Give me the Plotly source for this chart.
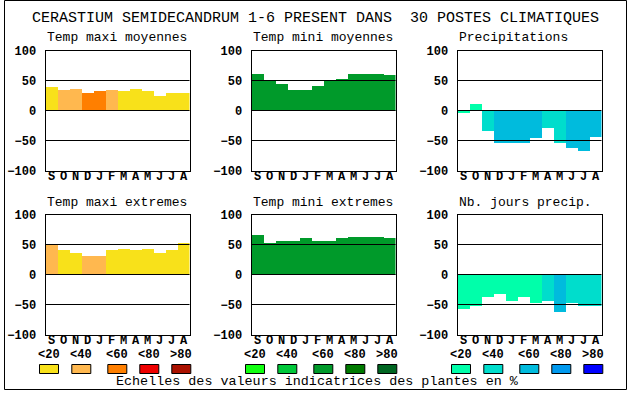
import plotly.graph_objects as go

MONTHS = ["S", "O", "N", "D", "J", "F", "M", "A", "M", "J", "J", "A"]

TITLE = "CERASTIUM SEMIDECANDRUM 1-6 PRESENT DANS  30 POSTES CLIMATIQUES"
FOOTER = "Echelles des valeurs indicatrices des plantes en %"
CLASS_LABELS = ["<20", "<40", "<60", "<80", ">80"]

PANEL_TITLES = ["Temp maxi moyennes", "Temp mini moyennes", "Precipitations",
                "Temp maxi extremes", "Temp mini extremes", "Nb. jours precip."]

tmax_moy = [40, 35, 37, 30, 33, 35, 33, 37, 33, 25, 30, 30]
tmax_moy_cls = [0, 1, 1, 2, 2, 1, 0, 0, 0, 0, 0, 0]

tmin_moy = [62, 52, 45, 35, 35, 42, 52, 53, 62, 62, 62, 60]
tmin_moy_cls = [2] * 12

precip = [-4, 12, -34, -54, -54, -53, -45, -28, -54, -61, -66, -44]
precip_cls = [0, 0, 1, 2, 2, 2, 2, 1, 1, 2, 2, 2]

tmax_ext = [52, 42, 36, 32, 32, 41, 44, 42, 44, 37, 41, 54]
tmax_ext_cls = [1, 0, 0, 1, 1, 0, 0, 0, 0, 0, 0, 0]

tmin_ext = [66, 54, 57, 57, 62, 56, 56, 61, 64, 64, 64, 62]
tmin_ext_cls = [2] * 12

nbjours = [-56, -52, -37, -31, -44, -37, -46, -44, -61, -46, -52, -52]
nbjours_cls = [0, 0, 0, 0, 0, 0, 0, 1, 2, 1, 1, 1]

PAL_TEMP = ["#f8e11a", "#ffb84f", "#ff7f00", "#ee0000", "#aa1100"]
PAL_COLD = ["#11ff11", "#00c83a", "#009a2a", "#007a00", "#006622"]
PAL_WET = ["#00ffaa", "#00ddcc", "#00bbdd", "#0099ee", "#0000ff"]

panels = [
    (tmax_moy, tmax_moy_cls, PAL_TEMP),
    (tmin_moy, tmin_moy_cls, PAL_COLD),
    (precip, precip_cls, PAL_WET),
    (tmax_ext, tmax_ext_cls, PAL_TEMP),
    (tmin_ext, tmin_ext_cls, PAL_COLD),
    (nbjours, nbjours_cls, PAL_WET),
]
PALETTES = [PAL_TEMP, PAL_COLD, PAL_WET]
GRID_LEVELS = [50, 0, -50]

W, H = 630, 394
LEFTS = [45, 251, 457]
TOPS = [50, 214]
PW, PH = 144, 120

MONO = "Liberation Mono"

def fx(px):
    return px / W

def fy(py):
    return 1 - py / H

fig = go.Figure()
shapes = []
annotations = []

for i, (vals, cls, pal) in enumerate(panels):
    r, c = divmod(i, 3)
    n = i + 1
    xa = "x" if n == 1 else f"x{n}"
    ya = "y" if n == 1 else f"y{n}"
    fig.add_trace(go.Bar(
        x=list(range(len(vals))), y=vals,
        marker=dict(color=[pal[k] for k in cls], line=dict(width=0)),
        xaxis=xa, yaxis=ya, showlegend=False, hoverinfo="skip",
    ))
    l, t = LEFTS[c], TOPS[r]
    xkey = "xaxis" if n == 1 else f"xaxis{n}"
    ykey = "yaxis" if n == 1 else f"yaxis{n}"
    fig.update_layout(**{
        xkey: dict(domain=[fx(l + 0.5), fx(l + PW + 0.5)], anchor=ya,
                   range=[-0.5, 11.5], tickvals=list(range(12)), ticktext=MONTHS,
                   showgrid=False, zeroline=False, showline=True, mirror=True,
                   linecolor="black", linewidth=1, ticks="", layer="above traces",
                   tickfont=dict(family=MONO, size=12, color="black", weight="bold"),
                   ticklabelstandoff=-6, automargin=False, fixedrange=True),
        ykey: dict(domain=[fy(t + PH + 0.5), fy(t + 0.5)], anchor=xa,
                   range=[-100, 100], tickvals=[-100, -50, 0, 50, 100],
                   showgrid=False, zeroline=False, showline=True, mirror=True,
                   linecolor="black", linewidth=1, ticks="", layer="above traces",
                   tickfont=dict(family=MONO, size=12, color="black", weight="bold"),
                   ticklabelstandoff=6, automargin=False, fixedrange=True),
    })
    for lv in GRID_LEVELS:
        shapes.append(dict(type="line", xref=f"{xa} domain", yref=ya,
                           x0=0, x1=1, y0=lv, y1=lv, layer="above",
                           line=dict(color="black", width=1)))
    annotations.append(dict(text=PANEL_TITLES[i], x=fx(l), y=fy(t - 12),
                            xref="paper", yref="paper", xanchor="left",
                            yanchor="middle", showarrow=False,
                            font=dict(family=MONO, size=13, color="black")))

# legend swatches
BOX_OFF = [4, 36.3, 72.3, 104.3, 136.3]
for c, pal in enumerate(PALETTES):
    for k, col in enumerate(pal):
        cx = LEFTS[c] + BOX_OFF[k]
        shapes.append(dict(type="rect", xref="paper", yref="paper",
                           x0=fx(cx - 10 + 0.5), x1=fx(cx + 10 - 0.5),
                           y0=fy(373.5), y1=fy(364.5), fillcolor=col,
                           line=dict(color="black", width=1), layer="above"))
        annotations.append(dict(text=CLASS_LABELS[k], x=fx(cx), y=fy(354.5),
                                xref="paper", yref="paper", xanchor="center",
                                yanchor="middle", showarrow=False,
                                font=dict(family=MONO, size=12, color="black",
                                          weight="bold")))

# frame
shapes.append(dict(type="rect", xref="paper", yref="paper",
                   x0=fx(4.5), x1=fx(626.5), y0=fy(389.5), y1=fy(0.5),
                   line=dict(color="black", width=1), layer="above"))

annotations.append(dict(text=TITLE, x=fx(315), y=fy(18.5), xref="paper", yref="paper",
                        xanchor="center", yanchor="middle", showarrow=False,
                        font=dict(family=MONO, size=15, color="black")))
annotations.append(dict(text=FOOTER, x=fx(317), y=fy(381.5), xref="paper", yref="paper",
                        xanchor="center", yanchor="middle", showarrow=False,
                        font=dict(family=MONO, size=13.4, color="black")))

fig.update_layout(width=W, height=H, margin=dict(l=0, r=0, t=0, b=0, autoexpand=False),
                  paper_bgcolor="white", plot_bgcolor="white", bargap=0,
                  shapes=shapes, annotations=annotations, showlegend=False)

fig.write_html("out.html", config={"displayModeBar": False},
               post_script="document.body.style.margin='0';document.body.style.overflow='hidden';")
